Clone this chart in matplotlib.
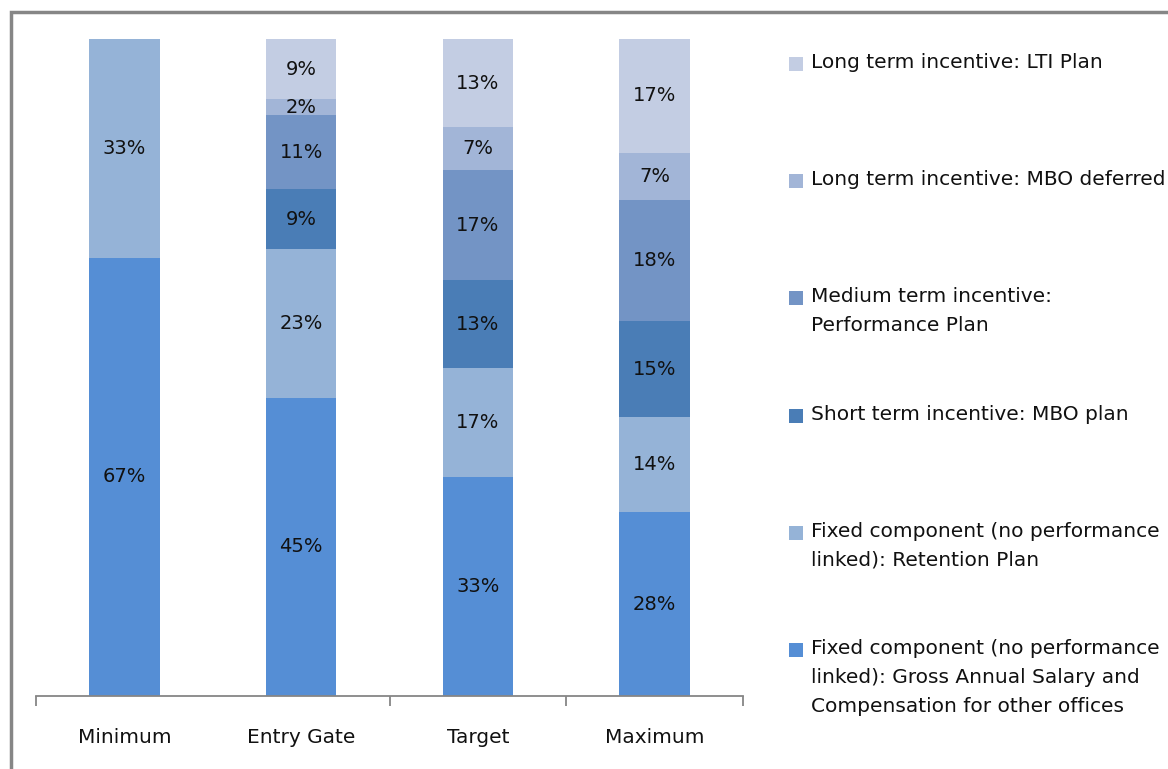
import matplotlib.pyplot as plt
from matplotlib.patches import Rectangle
import numpy as np

plt.rcParams['font.family'] = ['DejaVu Sans']

categories = ["Minimum", "Entry Gate", "Target", "Maximum"]
series_names = [
    "Fixed component (no performance\nlinked): Gross Annual Salary and\nCompensation for other offices",
    "Fixed component (no performance\nlinked): Retention Plan",
    "Short term incentive: MBO plan",
    "Medium term incentive:\nPerformance Plan",
    "Long term incentive: MBO deferred",
    "Long term incentive: LTI Plan",
]
salary = [66.7, 45.4, 33.3, 28.0]
retention = [33.3, 22.6, 16.6, 14.4]
mbo_plan = [0, 9.1, 13.4, 14.7]
performance = [0, 11.3, 16.7, 18.4]
mbo_deferred = [0, 2.4, 6.6, 7.2]
lti = [0, 9.2, 13.4, 17.3]
series = [salary, retention, mbo_plan, performance, mbo_deferred, lti]
colors = ["#558ED5", "#95B3D7", "#4A7DB6", "#7394C5", "#A2B5D7", "#C3CDE3"]

W, H = 1168, 769
fig = plt.figure(figsize=(W / 100, H / 100), dpi=100)
ax = fig.add_axes([36 / W, 1 - 696 / H, (743 - 36) / W, (696 - 39) / H])

x = np.arange(len(categories))
bottom = np.zeros(len(categories))
for vals, col in zip(series, colors):
    vals = np.array(vals, dtype=float)
    ax.bar(x, vals, 0.4, bottom=bottom, color=col, linewidth=0)
    for xi, b, v in zip(x, bottom, vals):
        if v > 0:
            ax.text(xi, b + v / 2, "{:.0f}%".format(v), ha="center", va="center",
                    fontsize=14, color="#111111")
    bottom += vals

ax.set_xlim(-0.5, 3.5)
ax.set_ylim(0, 100)
ax.set_yticks([])
for s in ["top", "right", "left"]:
    ax.spines[s].set_visible(False)
ax.spines["bottom"].set_color("#868686")
ax.spines["bottom"].set_linewidth(1.3)
ax.set_xticks(x)
ax.set_xticklabels(categories, fontsize=14.5, color="#111111")
ax.tick_params(axis="x", which="major", length=0, pad=23)
ax.set_xticks([-0.5, 1.5, 2.5, 3.5], minor=True)
ax.tick_params(axis="x", which="minor", length=7, color="#868686", width=1.3)

# legend, drawn by hand so the marker sits on the first text line
top_y = 64
for i, (name, col) in enumerate(zip(series_names[::-1], colors[::-1])):
    yc = top_y + i * 117.2
    fig.patches.append(Rectangle((789 / W, 1 - (yc + 7) / H), 14 / W, 14 / H,
                                 transform=fig.transFigure, color=col, linewidth=0))
    fig.text(811 / W, 1 - (yc - 11) / H, name, ha="left", va="top",
             fontsize=14.5, linespacing=1.65, color="#111111")

fig.add_artist(Rectangle((11 / W, -0.05), 1.2, 1.05 - 12 / H, transform=fig.transFigure,
                         fill=False, edgecolor="#868686", linewidth=2.5))

plt.savefig("out.png", dpi=100)
